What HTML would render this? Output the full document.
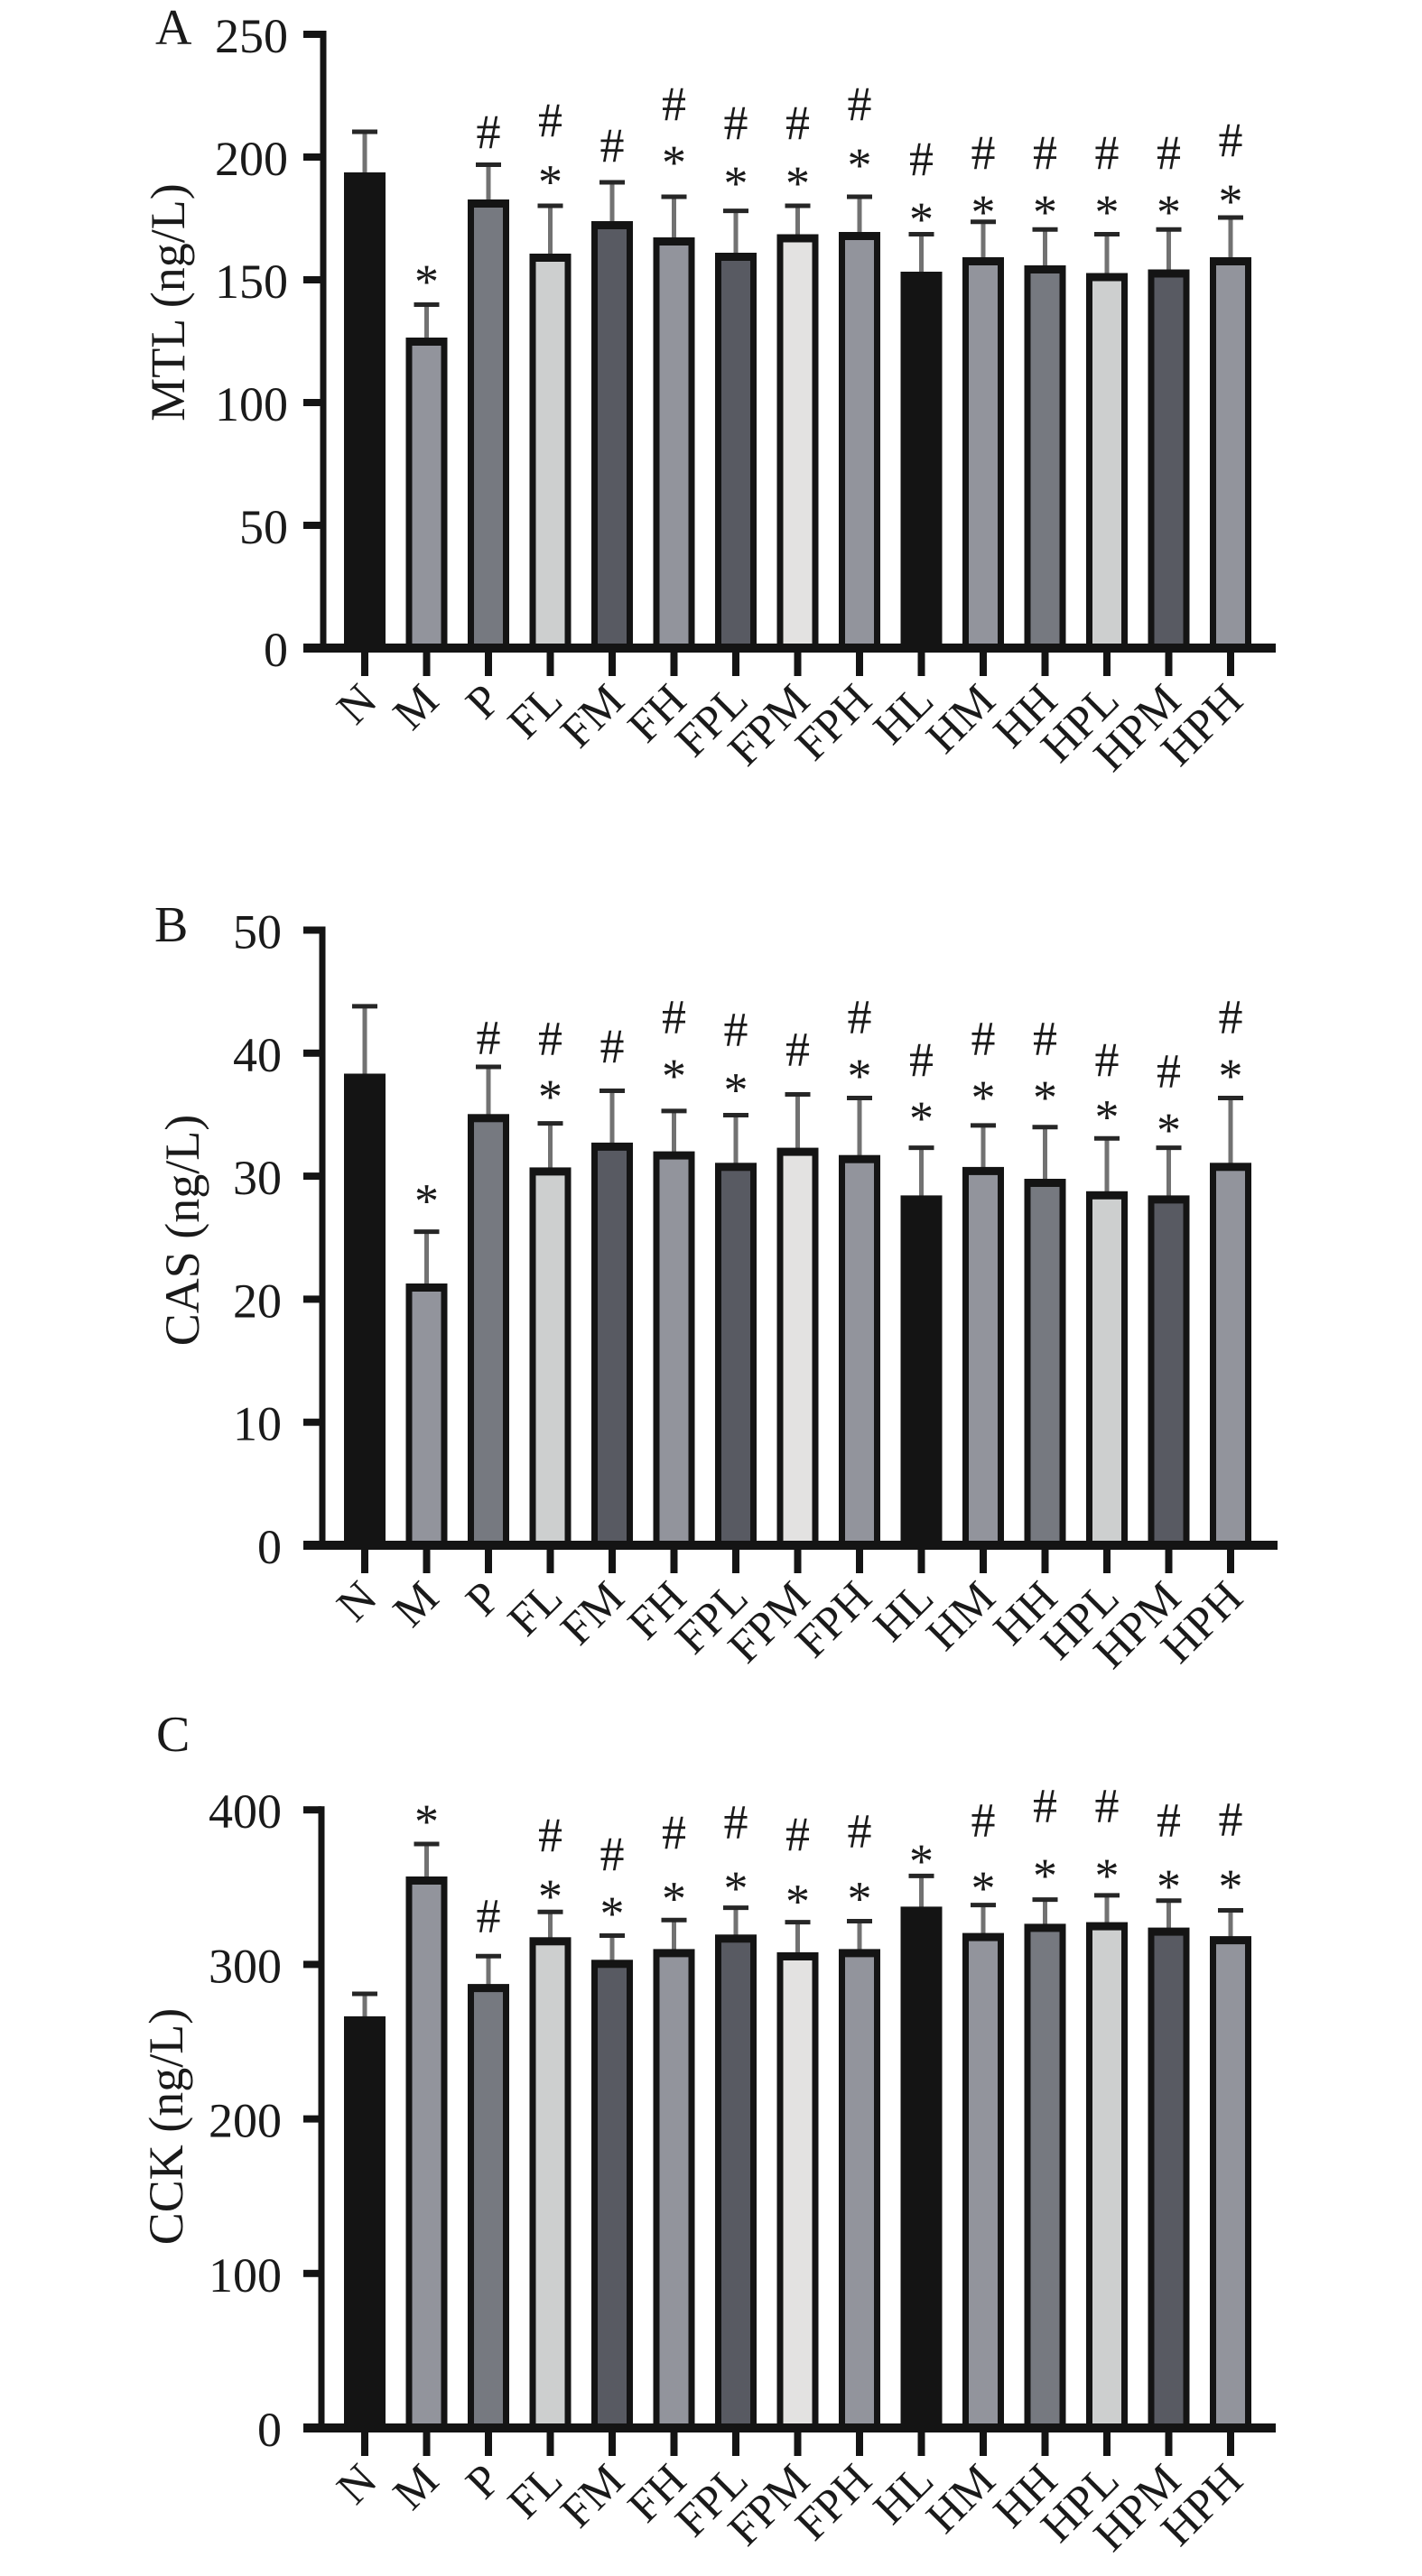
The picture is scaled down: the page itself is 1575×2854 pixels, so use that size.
<!DOCTYPE html>
<html><head><meta charset="utf-8"><style>
html,body{margin:0;padding:0;background:#fff}
svg{display:block}
text{font-family:"Liberation Serif","Times New Roman",serif;fill:#1a1a1a}
.t{font-size:54px;text-anchor:end}
.yl{font-size:54px;text-anchor:middle}
.xl{font-size:51px;text-anchor:end}
.an{font-size:54px;text-anchor:middle}
.pl{font-size:56px}
.e{stroke:#727272;stroke-width:5}
.c{stroke:#262626;stroke-width:5}
</style></head><body>
<svg width="1575" height="2854" viewBox="0 0 1575 2854" xmlns="http://www.w3.org/2000/svg">
<rect width="1575" height="2854" fill="#fff"/>

<!-- ================= PANEL A ================= -->
<text class="pl" x="172" y="49">A</text>
<text class="yl" transform="translate(204,335) rotate(-90)">MTL (ng/L)</text>
<g fill="#141414">
<rect x="336" y="714" width="22" height="8"/><rect x="336" y="578" width="22" height="8"/><rect x="336" y="442" width="22" height="8"/><rect x="336" y="306" width="22" height="8"/><rect x="336" y="170" width="22" height="8"/><rect x="336" y="34" width="22" height="8"/>
</g>
<text class="t" x="319" y="738">0</text><text class="t" x="319" y="602">50</text><text class="t" x="319" y="466">100</text><text class="t" x="319" y="330">150</text><text class="t" x="319" y="194">200</text><text class="t" x="319" y="58">250</text>
<!-- error lines -->
<g class="e">
<line x1="404" y1="146" x2="404" y2="195"/><line x1="472.5" y1="337.5" x2="472.5" y2="378"/><line x1="541" y1="182.5" x2="541" y2="225"/><line x1="609.5" y1="228" x2="609.5" y2="285"/><line x1="678" y1="202" x2="678" y2="249"/><line x1="746.5" y1="218" x2="746.5" y2="267"/><line x1="815" y1="233.6" x2="815" y2="284"/><line x1="883.5" y1="228" x2="883.5" y2="263"/><line x1="952" y1="218" x2="952" y2="261"/><line x1="1020.5" y1="259.5" x2="1020.5" y2="305"/><line x1="1089" y1="245.7" x2="1089" y2="289"/><line x1="1157.5" y1="254.3" x2="1157.5" y2="298"/><line x1="1226" y1="259.5" x2="1226" y2="306"/><line x1="1294.5" y1="254.3" x2="1294.5" y2="302"/><line x1="1363" y1="241" x2="1363" y2="289"/>
</g>
<g class="c">
<line x1="390" y1="146" x2="418" y2="146"/><line x1="458.5" y1="337.5" x2="486.5" y2="337.5"/><line x1="527" y1="182.5" x2="555" y2="182.5"/><line x1="595.5" y1="228" x2="623.5" y2="228"/><line x1="664" y1="202" x2="692" y2="202"/><line x1="732.5" y1="218" x2="760.5" y2="218"/><line x1="801" y1="233.6" x2="829" y2="233.6"/><line x1="869.5" y1="228" x2="897.5" y2="228"/><line x1="938" y1="218" x2="966" y2="218"/><line x1="1006.5" y1="259.5" x2="1034.5" y2="259.5"/><line x1="1075" y1="245.7" x2="1103" y2="245.7"/><line x1="1143.5" y1="254.3" x2="1171.5" y2="254.3"/><line x1="1212" y1="259.5" x2="1240" y2="259.5"/><line x1="1280.5" y1="254.3" x2="1308.5" y2="254.3"/><line x1="1349" y1="241" x2="1377" y2="241"/>
</g>
<!-- bars -->
<g fill="#141414">
<rect x="381" y="191" width="46" height="527"/><rect x="449.5" y="374" width="46" height="344"/><rect x="518" y="221" width="46" height="497"/><rect x="586.5" y="281" width="46" height="437"/><rect x="655" y="245" width="46" height="473"/><rect x="723.5" y="263" width="46" height="455"/><rect x="792" y="280" width="46" height="438"/><rect x="860.5" y="259.5" width="46" height="458.5"/><rect x="929" y="257" width="46" height="461"/><rect x="997.5" y="301" width="46" height="417"/><rect x="1066" y="285" width="46" height="433"/><rect x="1134.5" y="294" width="46" height="424"/><rect x="1203" y="302.5" width="46" height="415.5"/><rect x="1271.5" y="298.5" width="46" height="419.5"/><rect x="1340" y="285" width="46" height="433"/>
</g>
<rect x="456.5" y="383" width="32" height="335" fill="#92949c"/>
<rect x="525" y="230" width="32" height="488" fill="#767980"/>
<rect x="593.5" y="290" width="32" height="428" fill="#cdcfcf"/>
<rect x="662" y="254" width="32" height="464" fill="#585a62"/>
<rect x="730.5" y="272" width="32" height="446" fill="#92949c"/>
<rect x="799" y="289" width="32" height="429" fill="#585a62"/>
<rect x="867.5" y="268.5" width="32" height="449.5" fill="#e3e2e1"/>
<rect x="936" y="266" width="32" height="452" fill="#92949c"/>
<rect x="1073" y="294" width="32" height="424" fill="#92949c"/>
<rect x="1141.5" y="303" width="32" height="415" fill="#767980"/>
<rect x="1210" y="311.5" width="32" height="406.5" fill="#cdcfcf"/>
<rect x="1278.5" y="307.5" width="32" height="410.5" fill="#585a62"/>
<rect x="1347" y="294" width="32" height="424" fill="#92949c"/>
<!-- axes -->
<rect x="354.5" y="34" width="7" height="689" fill="#141414"/>
<rect x="336" y="713" width="1077" height="10" fill="#141414"/>
<g fill="#141414">
<rect x="400" y="718" width="8" height="31"/><rect x="468.5" y="718" width="8" height="31"/><rect x="537" y="718" width="8" height="31"/><rect x="605.5" y="718" width="8" height="31"/><rect x="674" y="718" width="8" height="31"/><rect x="742.5" y="718" width="8" height="31"/><rect x="811" y="718" width="8" height="31"/><rect x="879.5" y="718" width="8" height="31"/><rect x="948" y="718" width="8" height="31"/><rect x="1016.5" y="718" width="8" height="31"/><rect x="1085" y="718" width="8" height="31"/><rect x="1153.5" y="718" width="8" height="31"/><rect x="1222" y="718" width="8" height="31"/><rect x="1290.5" y="718" width="8" height="31"/><rect x="1359" y="718" width="8" height="31"/>
</g>
<!-- annotations A -->
<text class="an" x="472.5" y="330">*</text>
<text class="an" x="541" y="164">#</text>
<text class="an" x="609.5" y="151">#</text><text class="an" x="609.5" y="219.5">*</text>
<text class="an" x="678" y="179">#</text>
<text class="an" x="746.5" y="133">#</text><text class="an" x="746.5" y="198">*</text>
<text class="an" x="815" y="154">#</text><text class="an" x="815" y="221">*</text>
<text class="an" x="883.5" y="154">#</text><text class="an" x="883.5" y="221">*</text>
<text class="an" x="952" y="133">#</text><text class="an" x="952" y="201">*</text>
<text class="an" x="1020.5" y="194">#</text><text class="an" x="1020.5" y="261">*</text>
<text class="an" x="1089" y="187">#</text><text class="an" x="1089" y="253">*</text>
<text class="an" x="1157.5" y="187">#</text><text class="an" x="1157.5" y="253">*</text>
<text class="an" x="1226" y="187">#</text><text class="an" x="1226" y="253">*</text>
<text class="an" x="1294.5" y="187">#</text><text class="an" x="1294.5" y="253">*</text>
<text class="an" x="1363" y="173">#</text><text class="an" x="1363" y="241">*</text>
<!-- x labels A -->
<text class="xl" transform="translate(420,779) rotate(-45)">N</text>
<text class="xl" transform="translate(488.5,779) rotate(-45)">M</text>
<text class="xl" transform="translate(557,779) rotate(-45)">P</text>
<text class="xl" transform="translate(625.5,779) rotate(-45)">FL</text>
<text class="xl" transform="translate(694,779) rotate(-45)">FM</text>
<text class="xl" transform="translate(762.5,779) rotate(-45)">FH</text>
<text class="xl" transform="translate(831,779) rotate(-45)">FPL</text>
<text class="xl" transform="translate(899.5,779) rotate(-45)">FPM</text>
<text class="xl" transform="translate(968,779) rotate(-45)">FPH</text>
<text class="xl" transform="translate(1036.5,779) rotate(-45)">HL</text>
<text class="xl" transform="translate(1105,779) rotate(-45)">HM</text>
<text class="xl" transform="translate(1173.5,779) rotate(-45)">HH</text>
<text class="xl" transform="translate(1242,779) rotate(-45)">HPL</text>
<text class="xl" transform="translate(1310.5,779) rotate(-45)">HPM</text>
<text class="xl" transform="translate(1379,779) rotate(-45)">HPH</text>

<!-- ================= PANEL B ================= -->
<text class="pl" x="171" y="1043">B</text>
<text class="yl" transform="translate(220,1363) rotate(-90)">CAS (ng/L)</text>
<g fill="#141414">
<rect x="336" y="1708" width="21" height="8"/><rect x="336" y="1571.7" width="21" height="8"/><rect x="336" y="1435.4" width="21" height="8"/><rect x="336" y="1299.1" width="21" height="8"/><rect x="336" y="1162.8" width="21" height="8"/><rect x="336" y="1026.5" width="21" height="8"/>
</g>
<text class="t" x="312" y="1732">0</text><text class="t" x="312" y="1595.7">10</text><text class="t" x="312" y="1459.4">20</text><text class="t" x="312" y="1323.1">30</text><text class="t" x="312" y="1186.8">40</text><text class="t" x="312" y="1050.5">50</text>
<g class="e">
<line x1="404" y1="1114.9" x2="404" y2="1194"/><line x1="472.5" y1="1364.6" x2="472.5" y2="1426"/><line x1="541" y1="1182" x2="541" y2="1238"/><line x1="609.5" y1="1244.6" x2="609.5" y2="1297"/><line x1="678" y1="1208.5" x2="678" y2="1270"/><line x1="746.5" y1="1230.9" x2="746.5" y2="1279"/><line x1="815" y1="1235.5" x2="815" y2="1292"/><line x1="883.5" y1="1212.5" x2="883.5" y2="1275"/><line x1="952" y1="1216.5" x2="952" y2="1283"/><line x1="1020.5" y1="1271.6" x2="1020.5" y2="1328"/><line x1="1089" y1="1246.9" x2="1089" y2="1296"/><line x1="1157.5" y1="1248.7" x2="1157.5" y2="1310"/><line x1="1226" y1="1261.3" x2="1226" y2="1323"/><line x1="1294.5" y1="1271.6" x2="1294.5" y2="1328"/><line x1="1363" y1="1216.5" x2="1363" y2="1292"/>
</g>
<g class="c">
<line x1="390" y1="1114.9" x2="418" y2="1114.9"/><line x1="458.5" y1="1364.6" x2="486.5" y2="1364.6"/><line x1="527" y1="1182" x2="555" y2="1182"/><line x1="595.5" y1="1244.6" x2="623.5" y2="1244.6"/><line x1="664" y1="1208.5" x2="692" y2="1208.5"/><line x1="732.5" y1="1230.9" x2="760.5" y2="1230.9"/><line x1="801" y1="1235.5" x2="829" y2="1235.5"/><line x1="869.5" y1="1212.5" x2="897.5" y2="1212.5"/><line x1="938" y1="1216.5" x2="966" y2="1216.5"/><line x1="1006.5" y1="1271.6" x2="1034.5" y2="1271.6"/><line x1="1075" y1="1246.9" x2="1103" y2="1246.9"/><line x1="1143.5" y1="1248.7" x2="1171.5" y2="1248.7"/><line x1="1212" y1="1261.3" x2="1240" y2="1261.3"/><line x1="1280.5" y1="1271.6" x2="1308.5" y2="1271.6"/><line x1="1349" y1="1216.5" x2="1377" y2="1216.5"/>
</g>
<g fill="#141414">
<rect x="381" y="1189.5" width="46" height="522.5"/><rect x="449.5" y="1422" width="46" height="290"/><rect x="518" y="1234.3" width="46" height="477.7"/><rect x="586.5" y="1293.4" width="46" height="418.6"/><rect x="655" y="1265.9" width="46" height="446.1"/><rect x="723.5" y="1275.6" width="46" height="436.4"/><rect x="792" y="1288.3" width="46" height="423.7"/><rect x="860.5" y="1271.6" width="46" height="440.4"/><rect x="929" y="1279.7" width="46" height="432.3"/><rect x="997.5" y="1324.4" width="46" height="387.6"/><rect x="1066" y="1292.9" width="46" height="419.1"/><rect x="1134.5" y="1306" width="46" height="406"/><rect x="1203" y="1319.8" width="46" height="392.2"/><rect x="1271.5" y="1324.4" width="46" height="387.6"/><rect x="1340" y="1288.3" width="46" height="423.7"/>
</g>
<rect x="456.5" y="1431" width="32" height="281" fill="#92949c"/>
<rect x="525" y="1243.3" width="32" height="468.7" fill="#767980"/>
<rect x="593.5" y="1302.4" width="32" height="409.6" fill="#cdcfcf"/>
<rect x="662" y="1274.9" width="32" height="437.1" fill="#585a62"/>
<rect x="730.5" y="1284.6" width="32" height="427.4" fill="#92949c"/>
<rect x="799" y="1297.3" width="32" height="414.7" fill="#585a62"/>
<rect x="867.5" y="1280.6" width="32" height="431.4" fill="#e3e2e1"/>
<rect x="936" y="1288.7" width="32" height="423.3" fill="#92949c"/>
<rect x="1073" y="1301.9" width="32" height="410.1" fill="#92949c"/>
<rect x="1141.5" y="1315" width="32" height="397" fill="#767980"/>
<rect x="1210" y="1328.8" width="32" height="383.2" fill="#cdcfcf"/>
<rect x="1278.5" y="1333.4" width="32" height="378.6" fill="#585a62"/>
<rect x="1347" y="1297.3" width="32" height="414.7" fill="#92949c"/>
<rect x="353.5" y="1026.5" width="7" height="690" fill="#141414"/>
<rect x="336" y="1707" width="1079" height="10" fill="#141414"/>
<g fill="#141414">
<rect x="400" y="1712" width="8" height="31"/><rect x="468.5" y="1712" width="8" height="31"/><rect x="537" y="1712" width="8" height="31"/><rect x="605.5" y="1712" width="8" height="31"/><rect x="674" y="1712" width="8" height="31"/><rect x="742.5" y="1712" width="8" height="31"/><rect x="811" y="1712" width="8" height="31"/><rect x="879.5" y="1712" width="8" height="31"/><rect x="948" y="1712" width="8" height="31"/><rect x="1016.5" y="1712" width="8" height="31"/><rect x="1085" y="1712" width="8" height="31"/><rect x="1153.5" y="1712" width="8" height="31"/><rect x="1222" y="1712" width="8" height="31"/><rect x="1290.5" y="1712" width="8" height="31"/><rect x="1359" y="1712" width="8" height="31"/>
</g>
<text class="an" x="472.5" y="1348.7">*</text>
<text class="an" x="541" y="1167.3">#</text>
<text class="an" x="609.5" y="1168.5">#</text><text class="an" x="609.5" y="1232.8">*</text>
<text class="an" x="678" y="1177.1">#</text>
<text class="an" x="746.5" y="1144.4">#</text><text class="an" x="746.5" y="1209.8">*</text>
<text class="an" x="815" y="1158.7">#</text><text class="an" x="815" y="1225.3">*</text>
<text class="an" x="883.5" y="1180.5">#</text>
<text class="an" x="952" y="1144.4">#</text><text class="an" x="952" y="1209.8">*</text>
<text class="an" x="1020.5" y="1192">#</text><text class="an" x="1020.5" y="1256.9">*</text>
<text class="an" x="1089" y="1168.5">#</text><text class="an" x="1089" y="1233.9">*</text>
<text class="an" x="1157.5" y="1168.5">#</text><text class="an" x="1157.5" y="1233.9">*</text>
<text class="an" x="1226" y="1192">#</text><text class="an" x="1226" y="1255.7">*</text>
<text class="an" x="1294.5" y="1204.7">#</text><text class="an" x="1294.5" y="1270.1">*</text>
<text class="an" x="1363" y="1144.4">#</text><text class="an" x="1363" y="1209.8">*</text>
<text class="xl" transform="translate(420,1773) rotate(-45)">N</text>
<text class="xl" transform="translate(488.5,1773) rotate(-45)">M</text>
<text class="xl" transform="translate(557,1773) rotate(-45)">P</text>
<text class="xl" transform="translate(625.5,1773) rotate(-45)">FL</text>
<text class="xl" transform="translate(694,1773) rotate(-45)">FM</text>
<text class="xl" transform="translate(762.5,1773) rotate(-45)">FH</text>
<text class="xl" transform="translate(831,1773) rotate(-45)">FPL</text>
<text class="xl" transform="translate(899.5,1773) rotate(-45)">FPM</text>
<text class="xl" transform="translate(968,1773) rotate(-45)">FPH</text>
<text class="xl" transform="translate(1036.5,1773) rotate(-45)">HL</text>
<text class="xl" transform="translate(1105,1773) rotate(-45)">HM</text>
<text class="xl" transform="translate(1173.5,1773) rotate(-45)">HH</text>
<text class="xl" transform="translate(1242,1773) rotate(-45)">HPL</text>
<text class="xl" transform="translate(1310.5,1773) rotate(-45)">HPM</text>
<text class="xl" transform="translate(1379,1773) rotate(-45)">HPH</text>

<!-- ================= PANEL C ================= -->
<text class="pl" x="173" y="1940">C</text>
<text class="yl" transform="translate(202,2356) rotate(-90)">CCK (ng/L)</text>
<g fill="#141414">
<rect x="336" y="2686" width="20" height="8"/><rect x="336" y="2514.8" width="20" height="8"/><rect x="336" y="2343.6" width="20" height="8"/><rect x="336" y="2172.4" width="20" height="8"/><rect x="336" y="2001.2" width="20" height="8"/>
</g>
<text class="t" x="312" y="2710">0</text><text class="t" x="312" y="2538.8">100</text><text class="t" x="312" y="2367.6">200</text><text class="t" x="312" y="2196.4">300</text><text class="t" x="312" y="2025.2">400</text>
<g class="e">
<line x1="404" y1="2209" x2="404" y2="2238"/><line x1="472.5" y1="2043" x2="472.5" y2="2083"/><line x1="541" y1="2167.2" x2="541" y2="2202"/><line x1="609.5" y1="2118.3" x2="609.5" y2="2150"/><line x1="678" y1="2144.5" x2="678" y2="2175"/><line x1="746.5" y1="2127.3" x2="746.5" y2="2163"/><line x1="815" y1="2113.6" x2="815" y2="2147"/><line x1="883.5" y1="2129.6" x2="883.5" y2="2167"/><line x1="952" y1="2128.5" x2="952" y2="2163"/><line x1="1020.5" y1="2078.4" x2="1020.5" y2="2116"/><line x1="1089" y1="2110.6" x2="1089" y2="2145"/><line x1="1157.5" y1="2104.6" x2="1157.5" y2="2135"/><line x1="1226" y1="2099.9" x2="1226" y2="2133"/><line x1="1294.5" y1="2105.8" x2="1294.5" y2="2139"/><line x1="1363" y1="2116.5" x2="1363" y2="2149"/>
</g>
<g class="c">
<line x1="390" y1="2209" x2="418" y2="2209"/><line x1="458.5" y1="2043" x2="486.5" y2="2043"/><line x1="527" y1="2167.2" x2="555" y2="2167.2"/><line x1="595.5" y1="2118.3" x2="623.5" y2="2118.3"/><line x1="664" y1="2144.5" x2="692" y2="2144.5"/><line x1="732.5" y1="2127.3" x2="760.5" y2="2127.3"/><line x1="801" y1="2113.6" x2="829" y2="2113.6"/><line x1="869.5" y1="2129.6" x2="897.5" y2="2129.6"/><line x1="938" y1="2128.5" x2="966" y2="2128.5"/><line x1="1006.5" y1="2078.4" x2="1034.5" y2="2078.4"/><line x1="1075" y1="2110.6" x2="1103" y2="2110.6"/><line x1="1143.5" y1="2104.6" x2="1171.5" y2="2104.6"/><line x1="1212" y1="2099.9" x2="1240" y2="2099.9"/><line x1="1280.5" y1="2105.8" x2="1308.5" y2="2105.8"/><line x1="1349" y1="2116.5" x2="1377" y2="2116.5"/>
</g>
<g fill="#141414">
<rect x="381" y="2233.9" width="46" height="456.1"/><rect x="449.5" y="2079" width="46" height="611"/><rect x="518" y="2198.1" width="46" height="491.9"/><rect x="586.5" y="2146.3" width="46" height="543.7"/><rect x="655" y="2171.3" width="46" height="518.7"/><rect x="723.5" y="2159.4" width="46" height="530.6"/><rect x="792" y="2143.3" width="46" height="546.7"/><rect x="860.5" y="2163" width="46" height="527"/><rect x="929" y="2159.4" width="46" height="530.6"/><rect x="997.5" y="2112.4" width="46" height="577.6"/><rect x="1066" y="2141.6" width="46" height="548.4"/><rect x="1134.5" y="2131.4" width="46" height="558.6"/><rect x="1203" y="2129.6" width="46" height="560.4"/><rect x="1271.5" y="2135.6" width="46" height="554.4"/><rect x="1340" y="2145.1" width="46" height="544.9"/>
</g>
<rect x="456.5" y="2088" width="32" height="602" fill="#92949c"/>
<rect x="525" y="2207.1" width="32" height="482.9" fill="#767980"/>
<rect x="593.5" y="2155.3" width="32" height="534.7" fill="#cdcfcf"/>
<rect x="662" y="2180.3" width="32" height="509.7" fill="#585a62"/>
<rect x="730.5" y="2168.4" width="32" height="521.6" fill="#92949c"/>
<rect x="799" y="2152.3" width="32" height="537.7" fill="#585a62"/>
<rect x="867.5" y="2172" width="32" height="518" fill="#e3e2e1"/>
<rect x="936" y="2168.4" width="32" height="521.6" fill="#92949c"/>
<rect x="1073" y="2150.6" width="32" height="539.4" fill="#92949c"/>
<rect x="1141.5" y="2140.4" width="32" height="549.6" fill="#767980"/>
<rect x="1210" y="2138.6" width="32" height="551.4" fill="#cdcfcf"/>
<rect x="1278.5" y="2144.6" width="32" height="545.4" fill="#585a62"/>
<rect x="1347" y="2154.1" width="32" height="535.9" fill="#92949c"/>
<rect x="352.5" y="2001.2" width="7" height="693.8" fill="#141414"/>
<rect x="336" y="2685" width="1077" height="10" fill="#141414"/>
<g fill="#141414">
<rect x="400" y="2690" width="8" height="31"/><rect x="468.5" y="2690" width="8" height="31"/><rect x="537" y="2690" width="8" height="31"/><rect x="605.5" y="2690" width="8" height="31"/><rect x="674" y="2690" width="8" height="31"/><rect x="742.5" y="2690" width="8" height="31"/><rect x="811" y="2690" width="8" height="31"/><rect x="879.5" y="2690" width="8" height="31"/><rect x="948" y="2690" width="8" height="31"/><rect x="1016.5" y="2690" width="8" height="31"/><rect x="1085" y="2690" width="8" height="31"/><rect x="1153.5" y="2690" width="8" height="31"/><rect x="1222" y="2690" width="8" height="31"/><rect x="1290.5" y="2690" width="8" height="31"/><rect x="1359" y="2690" width="8" height="31"/>
</g>
<text class="an" x="472.5" y="2036">*</text>
<text class="an" x="541" y="2140.5">#</text>
<text class="an" x="609.5" y="2051">#</text><text class="an" x="609.5" y="2119">*</text>
<text class="an" x="678" y="2072">#</text><text class="an" x="678" y="2137.8">*</text>
<text class="an" x="746.5" y="2048.2">#</text><text class="an" x="746.5" y="2121.7">*</text>
<text class="an" x="815" y="2036.3">#</text><text class="an" x="815" y="2109.8">*</text>
<text class="an" x="883.5" y="2050">#</text><text class="an" x="883.5" y="2124.7">*</text>
<text class="an" x="952" y="2046.4">#</text><text class="an" x="952" y="2121.7">*</text>
<text class="an" x="1020.5" y="2080">*</text>
<text class="an" x="1089" y="2034.5">#</text><text class="an" x="1089" y="2109.8">*</text>
<text class="an" x="1157.5" y="2018.4">#</text><text class="an" x="1157.5" y="2096.1">*</text>
<text class="an" x="1226" y="2018.4">#</text><text class="an" x="1226" y="2096.1">*</text>
<text class="an" x="1294.5" y="2034.5">#</text><text class="an" x="1294.5" y="2108">*</text>
<text class="an" x="1363" y="2033.3">#</text><text class="an" x="1363" y="2108">*</text>
<text class="xl" transform="translate(420,2751) rotate(-45)">N</text>
<text class="xl" transform="translate(488.5,2751) rotate(-45)">M</text>
<text class="xl" transform="translate(557,2751) rotate(-45)">P</text>
<text class="xl" transform="translate(625.5,2751) rotate(-45)">FL</text>
<text class="xl" transform="translate(694,2751) rotate(-45)">FM</text>
<text class="xl" transform="translate(762.5,2751) rotate(-45)">FH</text>
<text class="xl" transform="translate(831,2751) rotate(-45)">FPL</text>
<text class="xl" transform="translate(899.5,2751) rotate(-45)">FPM</text>
<text class="xl" transform="translate(968,2751) rotate(-45)">FPH</text>
<text class="xl" transform="translate(1036.5,2751) rotate(-45)">HL</text>
<text class="xl" transform="translate(1105,2751) rotate(-45)">HM</text>
<text class="xl" transform="translate(1173.5,2751) rotate(-45)">HH</text>
<text class="xl" transform="translate(1242,2751) rotate(-45)">HPL</text>
<text class="xl" transform="translate(1310.5,2751) rotate(-45)">HPM</text>
<text class="xl" transform="translate(1379,2751) rotate(-45)">HPH</text>
</svg>
</body></html>
